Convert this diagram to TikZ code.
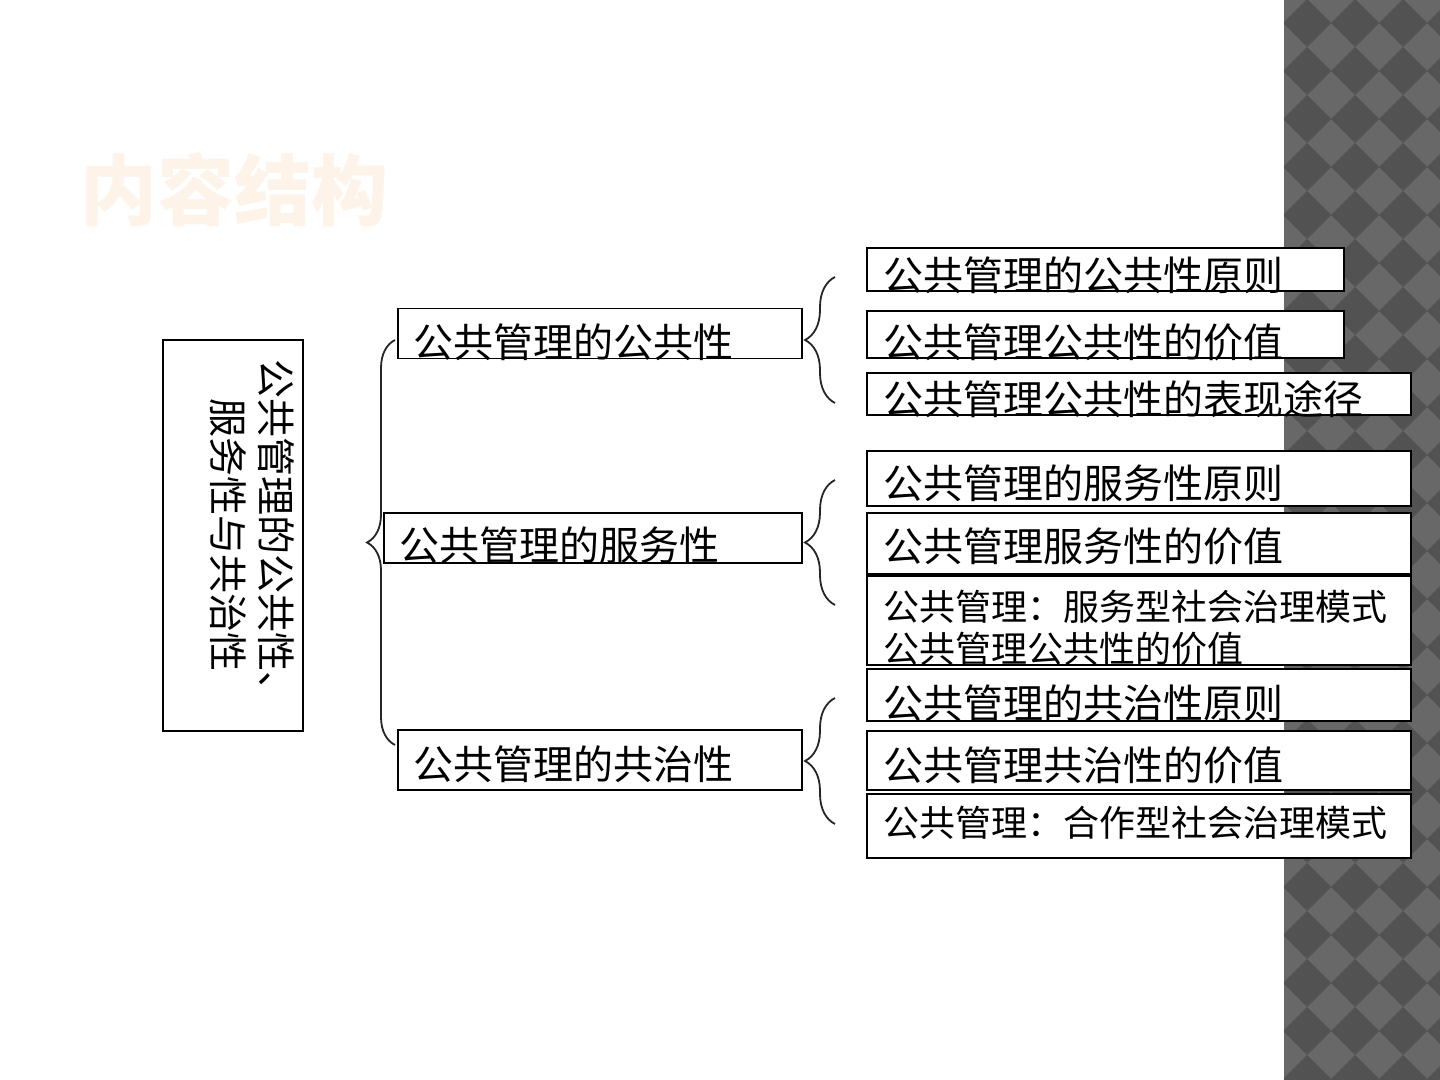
\documentclass[tikz,border=0pt]{standalone}
\usepackage{fontspec}
\setmainfont{Noto Sans CJK SC}
\usepackage{xcolor}
\usetikzlibrary{decorations.pathreplacing,positioning}

\definecolor{stripgray}{RGB}{104,104,104}
\definecolor{diamgray}{RGB}{82,82,82}
\definecolor{titlepeach}{RGB}{254,243,232}
\newcommand\mainsize{\fontsize{20pt}{24pt}\selectfont}
\newcommand\smalltxt{\fontsize{18pt}{21pt}\selectfont}

\begin{document}
\begin{tikzpicture}[
  x=0.5pt, y=-0.5pt,
  box/.style={draw, fill=white, line width=0.75pt, anchor=north west, inner xsep=8pt, inner ysep=0pt, align=left, font=\mainsize},
  lvtwo/.style n args={3}{box, text width=#1, text height=#2, text depth=#3},
  lvthree/.style n args={3}{box, line width=1pt, text width=#1, text height=#2, text depth=#3},
  brc/.style={decorate, decoration={brace, amplitude=#1}, line width=0.9pt, draw=black!85},
]
\useasboundingbox (0,0) rectangle (1440,1080);
\fill[white] (0,0) rectangle (1440,1080);

% patterned strip on the right
\fill[stripgray] (1284,0) rectangle (1440,1080);
\begin{scope}
  \clip (1284,0) rectangle (1440,1080);
  \foreach \i in {0,...,3}
    \foreach \j in {-1,...,23}
      \fill[diamgray] ({1307+48*\i},{23+48*\j}) ++(-24,0) -- ++(24,-24) -- ++(24,24) -- ++(-24,24) -- cycle;
\end{scope}

\node[font=\fontsize{38.5pt}{40pt}\selectfont\bfseries, text=titlepeach, anchor=west, inner sep=0pt] (title) at (80,190) {内容结构};

% root
\node[draw, line width=0.75pt, rotate=-90, minimum width=195.5pt, minimum height=70pt, inner sep=0pt, font=\fontsize{19.5pt}{24pt}\selectfont] (root) at (233,535.5)
  {\raisebox{7pt}[\height][\depth]{\begin{tabular}{@{}c@{}}公共管理的公共性、\\服务性与共治性\end{tabular}}};

% second level
\node[lvtwo={186pt}{24.5pt}{0.5pt}] (pub) at (397,308) {公共管理的公共性};
\node[lvtwo={193pt}{24pt}{1pt}] (srv) at (383,512) {公共管理的服务性};
\node[lvtwo={186pt}{25pt}{5pt}] (gov) at (397,729) {公共管理的共治性};

% third level
\node[lvthree={222.5pt}{21.5pt}{0pt}] (pub1) at (866,247) {公共管理的公共性原则};
\node[lvthree={222.5pt}{23.5pt}{0pt}] (pub2) at (866,310) {公共管理公共性的价值};
\node[lvthree={256pt}{21pt}{0pt}] (pub3) at (866,372) {公共管理公共性的表现途径};
\node[lvthree={256pt}{23.5pt}{4pt}] (srv1) at (866,450) {公共管理的服务性原则};
\node[lvthree={256pt}{24pt}{6.5pt}] (srv2) at (866,512) {公共管理服务性的价值};
\node[lvthree={256pt}{22pt}{22.5pt}, font=\smalltxt] (srv3) at (866,575) {公共管理：服务型社会治理模式\\公共管理公共性的价值};
\node[lvthree={256pt}{24.5pt}{1.5pt}] (gov1) at (866,668) {公共管理的共治性原则};
\node[lvthree={256pt}{24.5pt}{5pt}] (gov2) at (866,730) {公共管理共治性的价值};
\node[lvthree={256pt}{21pt}{11pt}, font=\smalltxt] (gov3) at (866,793) {公共管理：合作型社会治理模式};

% braces
\coordinate (bigtop) at (395,340);
\coordinate (bigbot) at (395,745);
\draw[brc=14pt] (bigbot) -- (bigtop);
\foreach \top/\bot [count=\k] in {277/403, 480/605, 698/824} {
  \coordinate (brt\k) at (835,\top);
  \coordinate (brb\k) at (835,\bot);
  \draw[brc=15pt] (brb\k) -- (brt\k);
}
\end{tikzpicture}
\end{document}
